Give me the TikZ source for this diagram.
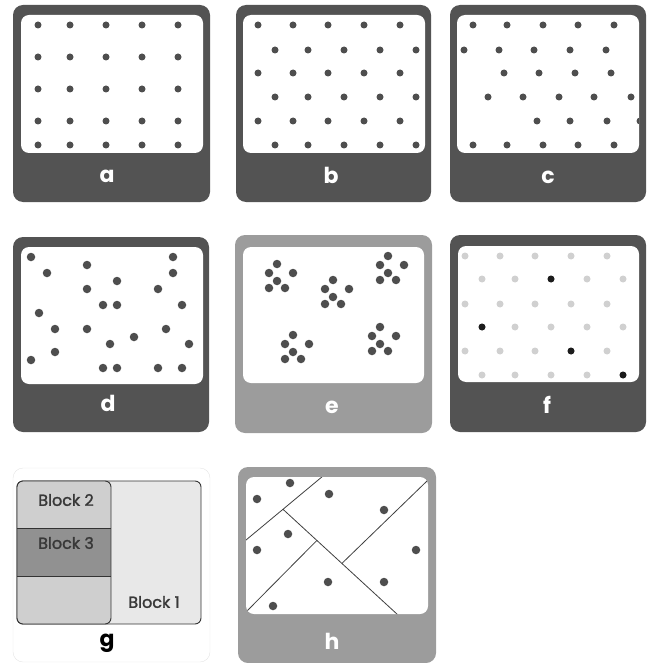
\documentclass[tikz,border=0pt]{standalone}
\usepackage{fontspec}
\setmainfont{Poppins}
\newfontfamily\blockfont{Poppins}[FakeBold=1.6]
\usetikzlibrary{positioning}

\definecolor{framedark}{HTML}{535353}
\definecolor{framelight}{HTML}{9C9C9C}
\definecolor{dotgray}{HTML}{4E4E4E}
\definecolor{dotpale}{HTML}{D0D0D0}
\definecolor{dotblack}{HTML}{1C1C1C}
\definecolor{blockpale}{HTML}{E8E8E8}
\definecolor{blockmid}{HTML}{CFCFCF}
\definecolor{blockdark}{HTML}{919191}

\begin{document}
\begin{tikzpicture}[x=1pt, y=-1pt,
    frame/.style={fill=framedark, rounded corners=10pt},
    window/.style={fill=white, rounded corners=8pt},
    dot/.style={circle, fill=dotgray, minimum size=7pt, inner sep=0pt},
    bigdot/.style={dot, minimum size=8.5pt},
    paledot/.style={dot, fill=dotpale},
    darkdot/.style={dot, fill=dotblack},
    tag/.style={font=\bfseries\fontsize{22}{22}\selectfont, text=white},
    blocktext/.style={font=\blockfont\fontsize{16}{16}\selectfont, text=black!78},
    cut/.style={draw=black!75, line width=0.8pt},
]
    \useasboundingbox (0,0) rectangle (650,663);

    % Panel a -- square grid
    \fill[frame] (13,5) rectangle (210,202);
    \fill[window] (21,15) rectangle (203,153);
    \foreach \y in {25,57,89,121,145}
        \foreach \x in {38,70,106,142,178}
            \node[dot] (a-\x-\y) at (\x,\y) {};
    \node[tag] (la) at (107,176) {a};

    % Panel b -- hexagonal grid
    \fill[frame] (236,5) rectangle (431,202);
    \fill[window] (243,15) rectangle (425,153);
    \foreach \y in {25,73,121}
        \foreach \x in {258,293,328,364,400}
            \node[dot] (b-\x-\y) at (\x,\y) {};
    \foreach \y in {50,97,145}
        \foreach \x in {275,308,344,380,416}
            \node[dot] (b-\x-\y) at (\x,\y) {};
    \node[tag] (lb) at (331,175) {b};

    % Panel c -- grid with gaps
    \fill[frame] (450,5) rectangle (646,202);
    \fill[window] (457,15) rectangle (639,153);
    \begin{scope}
        \clip[rounded corners=8pt] (457,15) rectangle (639,153);
        \foreach \x/\y in {473/25, 507/25, 543/25, 578/25, 614/25,
            464/50, 499/50, 534/50, 570/50, 606/50,
            504/73, 539/73, 575/73, 611/73,
            488/97, 523/97, 559/97, 594/97, 631/97,
            537/121, 570/121, 607/121, 640/121,
            473/145, 507/145, 543/145, 578/145, 614/145}
            \node[dot] (c-\x-\y) at (\x,\y) {};
    \end{scope}
    \node[tag] (lc) at (548,177) {c};

    % Panel d -- random
    \fill[frame] (13,237) rectangle (209,432);
    \fill[window] (21,247) rectangle (203,384);
    \foreach \x/\y in {31/257, 87/265, 173/257, 47/273, 173/273, 117/281,
        87/289, 158/289, 103/305, 117/305, 182/305, 39/313,
        55/329, 87/329, 166/329, 134/337, 110/344, 189/344,
        55/352, 31/360, 103/368, 117/368, 158/368, 182/368}
        \node[bigdot] (d-\x-\y) at (\x,\y) {};
    \node[tag] (ld) at (108,403) {d};

    % Panel e -- clusters
    \fill[frame, fill=framelight] (235,235) rectangle (432,433);
    \fill[window] (243,247) rectangle (424,383);
    \foreach \cx/\cy [count=\k] in {277/281, 333/297, 388/273, 293/352, 380/344}
        \foreach \dx/\dy [count=\j] in {0/-17, -8/-8, 16/-8, 0/0, -8/7, 8/7}
            \node[bigdot] (e\k-\j) at ({\cx+\dx},{\cy+\dy}) {};
    \node[tag] (le) at (332,407) {e};

    % Panel f -- sparse selection
    \fill[frame] (450,235) rectangle (646,432);
    \fill[window] (458,246) rectangle (639,382);
    \foreach \y in {256,304,351}
        \foreach \x in {465,500,535,571,607}
            \node[paledot] (f-\x-\y) at (\x,\y) {};
    \foreach \y in {279,327,375}
        \foreach \x in {482,515,551,587,623}
            \node[paledot] (f-\x-\y) at (\x,\y) {};
    \foreach \x/\y in {551/279, 482/327, 571/351, 623/375}
        \node[darkdot] (fk-\x-\y) at (\x,\y) {};
    \node[tag] (lf) at (547,405) {f};

    % Panel g -- blocks
    \draw[black!10, fill=white, rounded corners=10pt] (13,468) rectangle (210,662);
    \draw[black!80, line width=0.9pt, fill=blockpale, rounded corners=6pt]
        (17,481) rectangle (201,624);
    \begin{scope}
        \clip[rounded corners=6pt] (17,481) rectangle (111,624);
        \fill[blockmid] (17,481) rectangle (111,528);
        \fill[blockdark] (17,528) rectangle (111,576);
        \fill[blockmid] (17,576) rectangle (111,624);
    \end{scope}
    \draw[black!80, line width=0.9pt, rounded corners=6pt] (17,481) rectangle (111,624);
    \draw[black!80, line width=0.9pt] (17,528) -- (111,528) (17,576) -- (111,576);
    \node[blocktext] (b2) at (66,500) {Block 2};
    \node[blocktext] (b3) at (66,543) {Block 3};
    \node[blocktext] (b1) at (154,602) {Block 1};
    \node[tag, text=black] (lg) at (107,643) {g};

    % Panel h -- cells
    \fill[frame, fill=framelight] (238,467) rectangle (436,663);
    \fill[window] (246,477) rectangle (428,614);
    \coordinate (h1) at (244,541.7);
    \coordinate (h2) at (323,476);
    \coordinate (h3) at (283,509.3);
    \coordinate (h4) at (398,615);
    \coordinate (h5) at (246,612);
    \coordinate (h6) at (317,540.3);
    \coordinate (h7) at (342,563.3);
    \coordinate (h8) at (427,481);
    \begin{scope}
        \clip[rounded corners=8pt] (246,477) rectangle (428,614);
        \draw[cut] (h1) -- (h2);
        \draw[cut] (h3) -- (h4);
        \draw[cut] (h5) -- (h6);
        \draw[cut] (h7) -- (h8);
    \end{scope}
    \foreach \x/\y in {290/483, 257/499, 329/494, 384/510, 288/534,
        257/550, 416/550, 328/582, 384/582, 273/606}
        \node[bigdot] (h-\x-\y) at (\x,\y) {};
    \node[tag] (lh) at (332,641) {h};
\end{tikzpicture}
\end{document}
